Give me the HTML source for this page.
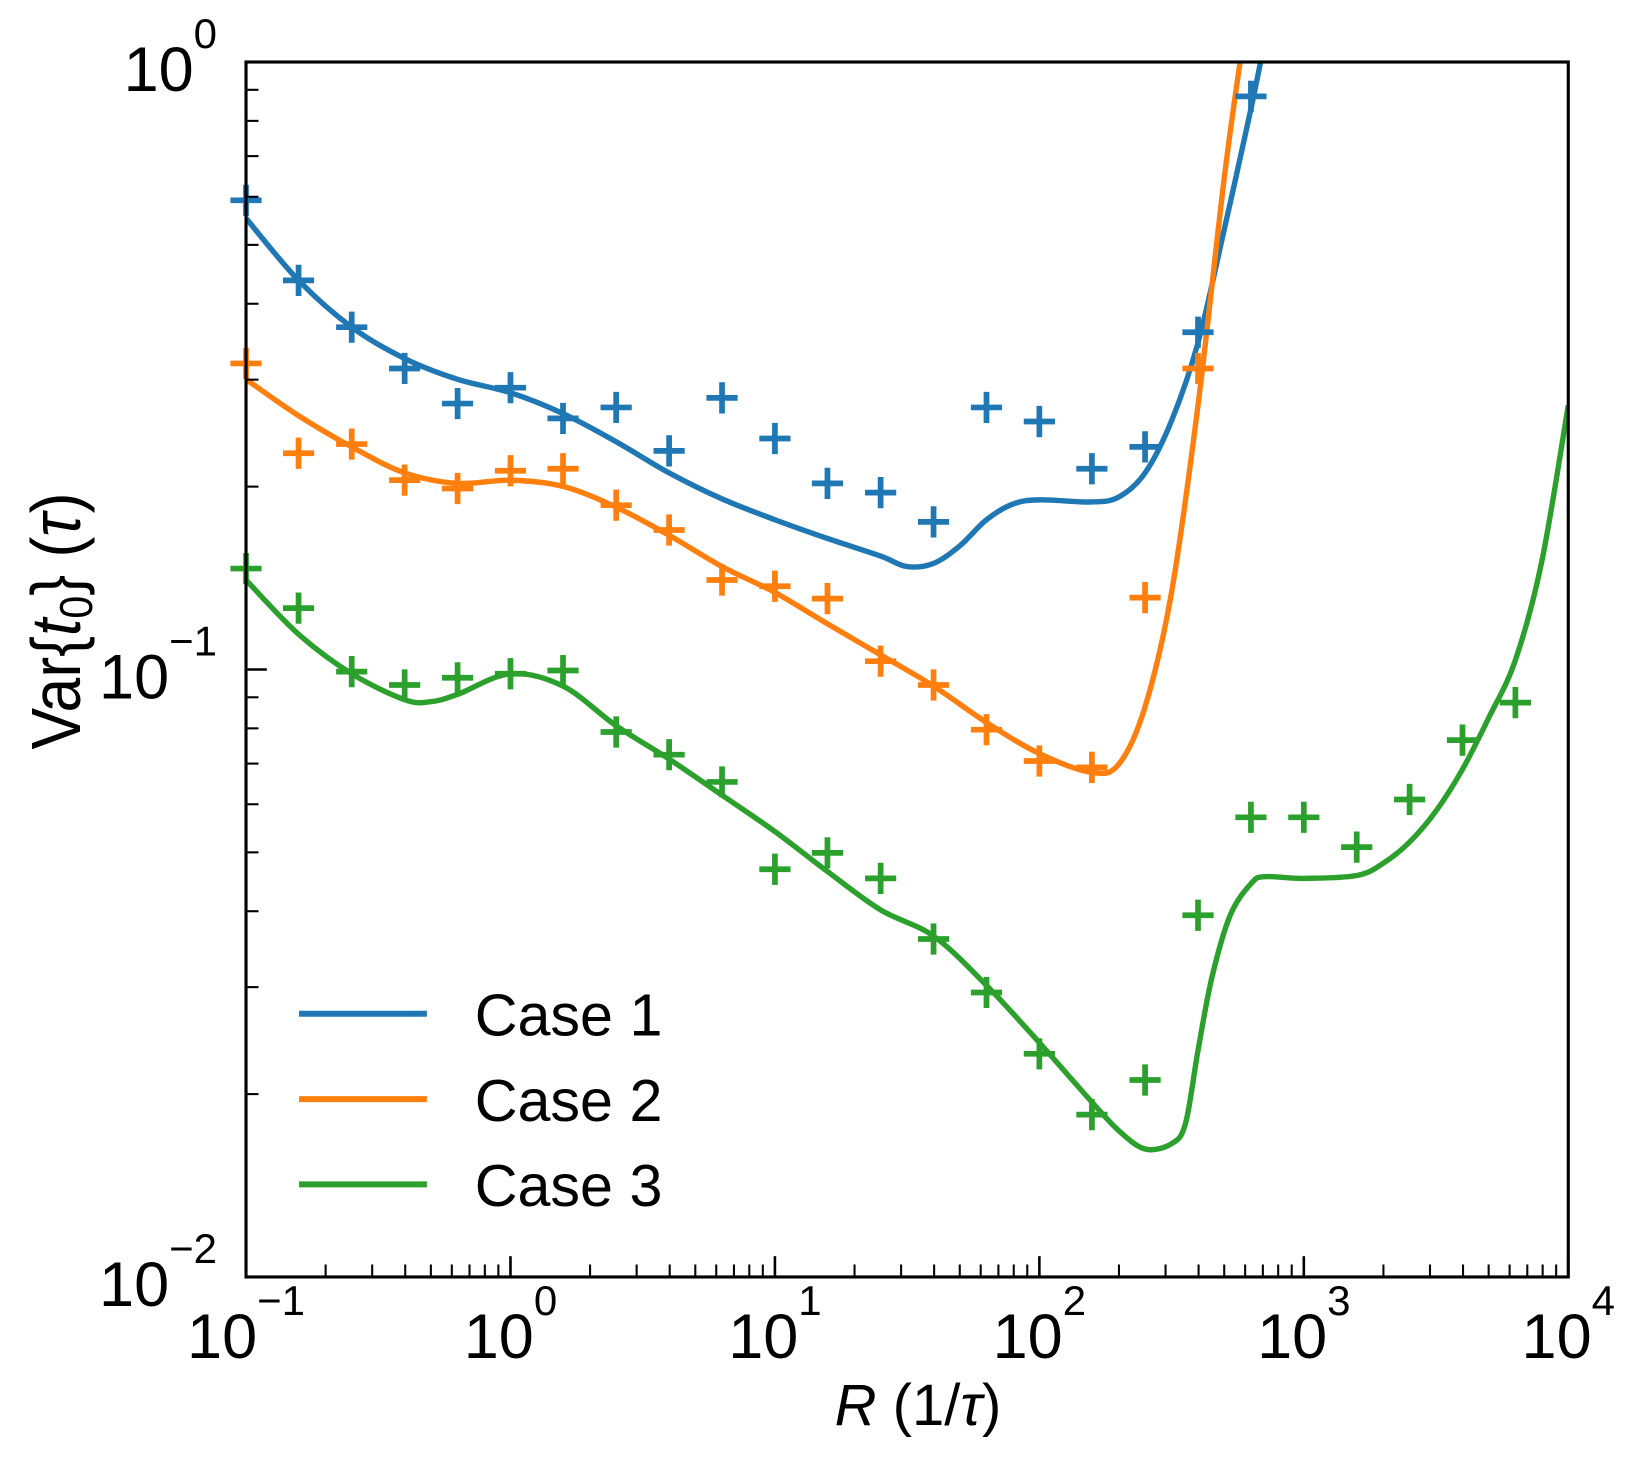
<!DOCTYPE html>
<html><head><meta charset="utf-8"><style>
html,body{margin:0;padding:0;background:#fff;}
svg{display:block;font-family:"Liberation Sans",Arial,sans-serif;}
</style></head><body>
<svg id="chart" width="1630" height="1457" viewBox="0 0 1630 1457">
<defs><clipPath id="clip"><rect x="236" y="60" width="1272" height="1168"/></clipPath></defs>
<g id="plot" transform="translate(0.7,-0.4) scale(1.0395,1.0402)">
<g id="lines" clip-path="url(#clip)"></g>
<g id="marks"></g>
<rect x="236" y="60" width="1272" height="1168" fill="none" stroke="#000" stroke-width="3"/>
<g id="ticks"></g>
<g id="legend"></g>
</g>
<g id="labels"></g>
<text x="918" y="1425" font-size="58" text-anchor="middle"><tspan font-style="italic">R</tspan> (1/<tspan font-style="italic">τ</tspan>)</text>
<text transform="translate(80,621) rotate(-90)" font-size="70" text-anchor="middle" textLength="257" lengthAdjust="spacingAndGlyphs">Var{<tspan font-style="italic">t</tspan><tspan font-size="46" dy="12">0</tspan><tspan dy="-12">} (</tspan><tspan font-style="italic">τ</tspan>)</text>
</svg>
<script>
const markerX = [0.1,0.158,0.251,0.398,0.631,1,1.58,2.51,3.98,6.31,10,15.8,25.1,39.8,63.1,100,158,251,398,631,1000,1585,2512,3981,6310];
const case1Markers = [0.592,0.437,0.366,0.313,0.274,0.291,0.259,0.270,0.229,0.280,0.240,0.2025,0.1955,0.175,0.270,0.256,0.214,0.2325,0.359,0.878];
const case2Markers = [0.319,0.227,0.235,0.205,0.1986,0.2124,0.214,0.1864,0.1697,0.1404,0.1371,0.1308,0.1032,0.0943,0.0796,0.0707,0.0690,0.1313,0.313];
const case3Markers = [0.1466,0.1262,0.0992,0.0943,0.0969,0.0984,0.0996,0.0789,0.0724,0.0653,0.0469,0.0499,0.0453,0.0360,0.0294,0.0233,0.0185,0.0211,0.0394,0.0571,0.0571,0.0510,0.0611,0.0765,0.0882];

const case1LineX = [0.1,0.158,0.251,0.398,0.631,1,1.58,2.51,3.98,6.31,10,15.8,25.1,31.6,39.8,50.1,63.1,79.4,100,158,200,251,316,398,501,631,711];
const case1LineY = [0.553,0.437,0.366,0.325,0.3004,0.2855,0.2638,0.2371,0.2107,0.1909,0.1764,0.1643,0.1537,0.1477,0.1495,0.1599,0.1764,0.1872,0.1902,0.1887,0.1924,0.2107,0.2566,0.345,0.532,0.837,1.082];
const case2LineX = [0.1,0.158,0.251,0.398,0.631,1,1.58,2.51,3.98,6.31,10,15.8,25.1,39.8,63.1,100,158,200,251,316,398,501,589];
const case2LineY = [0.3004,0.2617,0.2325,0.2107,0.2025,0.2049,0.2002,0.185,0.1663,0.1477,0.1339,0.1189,0.1057,0.0939,0.0818,0.0727,0.0677,0.0699,0.0868,0.1339,0.2722,0.648,1.082];
const case3LineX = [0.1,0.158,0.251,0.398,0.5,0.631,1,1.58,2.51,3.98,6.31,10,15.8,25.1,39.8,63.1,100,158,200,251,316,357,398,449,527,631,711,1000,1585,2000,2512,3162,3981,5012,6310,7943,10000];
const case3LineY = [0.1404,0.1143,0.0984,0.0892,0.0885,0.0910,0.0984,0.0939,0.0808,0.0712,0.0621,0.0541,0.0465,0.0402,0.0364,0.0302,0.0243,0.0194,0.0174,0.01624,0.01657,0.0179,0.0236,0.0311,0.0394,0.0444,0.0456,0.0453,0.0458,0.048,0.052,0.0585,0.0685,0.0834,0.1036,0.1507,0.2722];
const xExp=['-1','0','1','2','3','4'];
const yExp=['0','-1','-2'];
const legendNames=['Case 1','Case 2','Case 3'];

const colors = ['#1f77b4','#ff7f0e','#2ca02c'];
const X0=236,X1=1508,Y0=60,Y1=1228;
const xs = v => X0 + (Math.log10(v)+1)/5*(X1-X0);
const ys = v => Y0 + (-Math.log10(v))/2*(Y1-Y0);
const SX=1.0395,SY=1.0402,TX=0.7,TY=-0.4;
const NS='http://www.w3.org/2000/svg';
function mk(tag,attrs,parent){const e=document.createElementNS(NS,tag);for(const k in attrs)e.setAttribute(k,attrs[k]);parent.appendChild(e);return e;}

function smoothPath(px,py){
  let d='M'+px[0]+','+py[0];
  for(let i=0;i<px.length-1;i++){
    const p0x=px[Math.max(0,i-1)],p0y=py[Math.max(0,i-1)];
    const p3x=px[Math.min(px.length-1,i+2)],p3y=py[Math.min(px.length-1,i+2)];
    const c1x=px[i]+(px[i+1]-p0x)/6,c1y=py[i]+(py[i+1]-p0y)/6;
    const c2x=px[i+1]-(p3x-px[i])/6,c2y=py[i+1]-(p3y-py[i])/6;
    d+=' C'+c1x+','+c1y+' '+c2x+','+c2y+' '+px[i+1]+','+py[i+1];
  }
  return d;
}
const linesG=document.getElementById('lines');
const lineSets=[[case1LineX,case1LineY],[case2LineX,case2LineY],[case3LineX,case3LineY]];
lineSets.forEach((s,i)=>{
  const p=mk('path',{d:smoothPath(s[0].map(xs),s[1].map(ys)),fill:'none',stroke:colors[i],'stroke-width':5.2,'stroke-linejoin':'round'},linesG);
  
  
});
const marksG=document.getElementById('marks');
[case1Markers,case2Markers,case3Markers].forEach((arr,i)=>{
  arr.forEach((v,j)=>{
    const cx=xs(markerX[j]),cy=ys(v),h=15;
    const p=mk('path',{d:`M${cx-h},${cy}H${cx+h}M${cx},${cy-h}V${cy+h}`,stroke:colors[i],'stroke-width':5.5,fill:'none'},marksG);
    
    
  });
});
const tk=document.getElementById('ticks');
const lb=document.getElementById('labels');
xExp.forEach((e,i)=>{
  const x=xs(Math.pow(10,+e));
  mk('line',{x1:x,x2:x,y1:Y1,y2:Y1-20,stroke:'#000','stroke-width':2.5},tk);
  if(i<5)for(let k=2;k<10;k++){const mx=xs(k*Math.pow(10,+e));mk('line',{x1:mx,x2:mx,y1:Y1,y2:Y1-12,stroke:'#000','stroke-width':2},tk);}
  const ax=TX+SX*x;
  const t=mk('text',{x:ax,y:1358,'font-size':63,'text-anchor':'middle'},lb);
  
  
  t.innerHTML='10<tspan font-size="42" dy="-43">'+e.replace('-','−')+'</tspan>';
});
yExp.forEach((e,i)=>{
  const y=ys(Math.pow(10,+e));
  mk('line',{x1:X0,x2:X0+20,y1:y,y2:y,stroke:'#000','stroke-width':2.5},tk);
  if(i<2)for(let k=2;k<10;k++){const my=ys(k*Math.pow(10,+e-1));mk('line',{x1:X0,x2:X0+12,y1:my,y2:my,stroke:'#000','stroke-width':2},tk);}
  const ay=TY+SY*y;
  const t=mk('text',{x:217,y:ay+29,'font-size':63,'text-anchor':'end'},lb);
  
  
  t.innerHTML='10<tspan font-size="42" dy="-43">'+e.replace('-','−')+'</tspan>';
});
const lg=document.getElementById('legend');
legendNames.forEach((n,i)=>{
  const y=975+i*82;
  const l=mk('line',{x1:287,x2:410,y1:y,y2:y,stroke:colors[i],'stroke-width':5.8},lg);
  
  
  const t=mk('text',{x:456,y:y+21,'font-size':57},lg);
  
  
  t.textContent=n;
});
</script>
</body></html>
